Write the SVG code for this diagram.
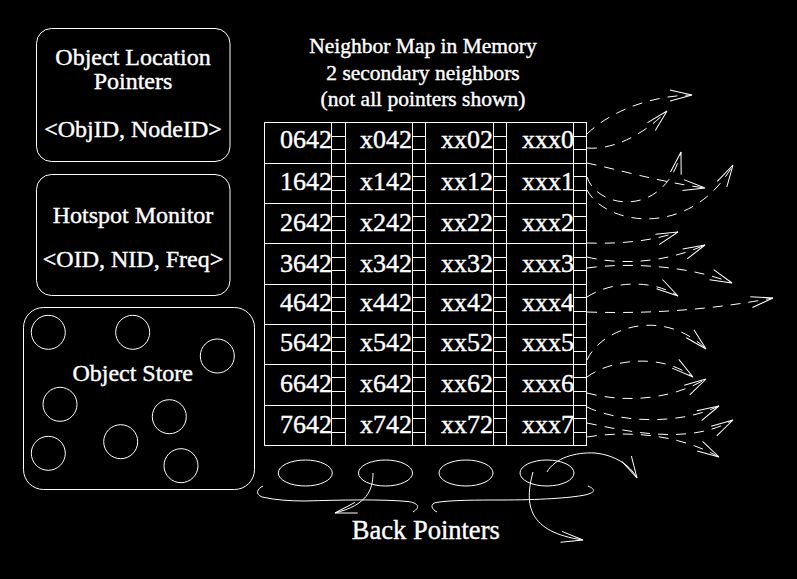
<svg xmlns="http://www.w3.org/2000/svg" width="797" height="579" viewBox="0 0 797 579">
<defs>
<style>
.bg{fill:#000}
.ln{fill:none;stroke:#fff;stroke-width:1}
.dash{fill:none;stroke:#fff;stroke-width:1;stroke-dasharray:10 8}
.t{fill:#fff;stroke:#fff;stroke-width:0.4;font-family:'Liberation Serif','Times New Roman',serif}
.lbl{font-size:24px;text-anchor:middle}
.cell{font-size:26px;text-anchor:end}
.ttl{font-size:21.5px;text-anchor:middle}
</style>
<marker id="ah" markerUnits="userSpaceOnUse" markerWidth="30" markerHeight="20" refX="0" refY="0" viewBox="-24 -10 30 20" orient="auto">
<path d="M-22,-5.5 L0,0 L-22,5.5" fill="none" stroke="#fff" stroke-width="1" stroke-dasharray="none"/>
</marker>
</defs>
<rect class="bg" x="0" y="0" width="797" height="579"/>

<g id="object-location-pointers">
<rect class="ln" x="36.5" y="28.5" width="193.5" height="133" rx="15"/>
<text class="t lbl" x="133" y="65">Object Location</text>
<text class="t lbl" x="133" y="89">Pointers</text>
<text class="t lbl" x="133" y="137">&lt;ObjID, NodeID&gt;</text>
</g>

<g id="hotspot-monitor">
<rect class="ln" x="36.5" y="174.5" width="193.5" height="121" rx="15"/>
<text class="t lbl" x="133" y="222.5">Hotspot Monitor</text>
<text class="t lbl" x="133" y="266.5">&lt;OID, NID, Freq&gt;</text>
</g>

<g id="object-store">
<rect class="ln" x="23.5" y="307.5" width="231" height="182" rx="20"/>
<circle class="ln" cx="48.3" cy="332.3" r="17"/>
<circle class="ln" cx="132.7" cy="332.3" r="17"/>
<circle class="ln" cx="217.3" cy="356" r="17"/>
<circle class="ln" cx="60" cy="404.3" r="17"/>
<circle class="ln" cx="169.3" cy="416.7" r="17"/>
<circle class="ln" cx="120.7" cy="441.7" r="17"/>
<circle class="ln" cx="48.3" cy="453.3" r="17"/>
<circle class="ln" cx="181" cy="465.7" r="17"/>
<text class="t lbl" x="132.7" y="380.7">Object Store</text>
</g>

<g id="neighbor-map-title">
<text class="t ttl" x="423" y="53">Neighbor Map in Memory</text>
<text class="t ttl" x="423" y="79.5">2 secondary neighbors</text>
<text class="t ttl" x="423" y="106">(not all pointers shown)</text>
</g>

<g id="neighbor-table">
<rect class="ln" x="264.5" y="122.5" width="322" height="323"/>
<path class="ln" d="M331.5,122.5V445.5M345.5,122.5V445.5M412.5,122.5V445.5M425.5,122.5V445.5M493.5,122.5V445.5M506.5,122.5V445.5M573.5,122.5V445.5"/>
<path class="ln" d="M264.5,163.5H586.5M264.5,203.5H586.5M264.5,243.5H586.5M264.5,284.5H586.5M264.5,324.5H586.5M264.5,364.5H586.5M264.5,405.5H586.5"/>
<path class="ln" d="M331.5,136.5h14M331.5,149.5h14M331.5,176.5h14M331.5,190.5h14M331.5,216.5h14M331.5,230.5h14M331.5,257.5h14M331.5,270.5h14M331.5,297.5h14M331.5,311.5h14M331.5,337.5h14M331.5,351.5h14M331.5,377.5h14M331.5,391.5h14M331.5,418.5h14M331.5,432.5h14"/>
<path class="ln" d="M412.5,136.5h13M412.5,149.5h13M412.5,176.5h13M412.5,190.5h13M412.5,216.5h13M412.5,230.5h13M412.5,257.5h13M412.5,270.5h13M412.5,297.5h13M412.5,311.5h13M412.5,337.5h13M412.5,351.5h13M412.5,377.5h13M412.5,391.5h13M412.5,418.5h13M412.5,432.5h13"/>
<path class="ln" d="M493.5,136.5h13M493.5,149.5h13M493.5,176.5h13M493.5,190.5h13M493.5,216.5h13M493.5,230.5h13M493.5,257.5h13M493.5,270.5h13M493.5,297.5h13M493.5,311.5h13M493.5,337.5h13M493.5,351.5h13M493.5,377.5h13M493.5,391.5h13M493.5,418.5h13M493.5,432.5h13"/>
<path class="ln" d="M573.5,136.5h13M573.5,149.5h13M573.5,176.5h13M573.5,190.5h13M573.5,216.5h13M573.5,230.5h13M573.5,257.5h13M573.5,270.5h13M573.5,297.5h13M573.5,311.5h13M573.5,337.5h13M573.5,351.5h13M573.5,377.5h13M573.5,391.5h13M573.5,418.5h13M573.5,432.5h13"/>
<g class="t cell">
<text x="332" y="148">0642</text><text x="412" y="148">x042</text><text x="493" y="148">xx02</text><text x="574" y="148">xxx0</text>
<text x="332" y="190">1642</text><text x="412" y="190">x142</text><text x="493" y="190">xx12</text><text x="574" y="190">xxx1</text>
<text x="332" y="230.5">2642</text><text x="412" y="230.5">x242</text><text x="493" y="230.5">xx22</text><text x="574" y="230.5">xxx2</text>
<text x="332" y="271.5">3642</text><text x="412" y="271.5">x342</text><text x="493" y="271.5">xx32</text><text x="574" y="271.5">xxx3</text>
<text x="332" y="311">4642</text><text x="412" y="311">x442</text><text x="493" y="311">xx42</text><text x="574" y="311">xxx4</text>
<text x="332" y="351">5642</text><text x="412" y="351">x542</text><text x="493" y="351">xx52</text><text x="574" y="351">xxx5</text>
<text x="332" y="392">6642</text><text x="412" y="392">x642</text><text x="493" y="392">xx62</text><text x="574" y="392">xxx6</text>
<text x="332" y="432.5">7642</text><text x="412" y="432.5">x742</text><text x="493" y="432.5">xx72</text><text x="574" y="432.5">xxx7</text>
</g>
</g>

<g id="back-pointers">
<ellipse class="ln" cx="305.3" cy="473" rx="27" ry="13"/>
<ellipse class="ln" cx="385.5" cy="473" rx="27" ry="13"/>
<ellipse class="ln" cx="466" cy="473" rx="27" ry="13"/>
<ellipse class="ln" cx="547" cy="473" rx="27" ry="13"/>
<text class="t" x="425.8" y="539" style="font-size:26.5px;text-anchor:middle">Back Pointers</text>
</g>

<g id="connectors">
<path class="dash" marker-end="url(#ah)" d="M587,134 C603,118 640,96 692,95"/>
<path class="dash" marker-end="url(#ah)" d="M587,148 C610,150 640,138 667,111"/>
<path class="dash" marker-end="url(#ah)" d="M587,163 C620,170 660,182 705,188"/>
<path class="dash" marker-end="url(#ah)" d="M587,177 C598,210 665,218 681,152"/>
<path class="dash" marker-end="url(#ah)" d="M587,190 C605,225 690,240 733,165"/>
<path class="dash" marker-end="url(#ah)" d="M587,243 C615,244 650,242 678,232"/>
<path class="dash" marker-end="url(#ah)" d="M587,257 C615,264 660,265 705,245"/>
<path class="dash" marker-end="url(#ah)" d="M587,268 C630,262 690,266 732,283"/>
<path class="dash" marker-end="url(#ah)" d="M587,297 C610,282 650,278 678,296"/>
<path class="dash" marker-end="url(#ah)" d="M587,312 C650,314 710,310 773,298"/>
<path class="dash" marker-end="url(#ah)" d="M587,360 C600,330 660,305 706,349"/>
<path class="dash" marker-end="url(#ah)" d="M587,377 C610,360 660,352 693,377"/>
<path class="dash" marker-end="url(#ah)" d="M587,393 C625,403 670,400 706,379"/>
<path class="dash" marker-end="url(#ah)" d="M587,407 C620,423 680,425 719,406"/>
<path class="dash" marker-end="url(#ah)" d="M587,423 C630,432 690,445 733,420"/>
<path class="dash" marker-end="url(#ah)" d="M587,437 C630,430 680,435 719,457"/>
<path class="ln" d="M263,486 C257,489 255,494 262,497 C275,500 290,501 305,501 C340,500 380,499 408,501.5 C418,503 421,507 413,512"/>
<path class="ln" d="M437,512 C431,509 430,504 436,502.5 C450,500 480,500 500,500 C540,500 570,498 585,495 C597,492 595,489 588,486"/>
<path class="ln" marker-end="url(#ah)" d="M373,473 C373,490 367,505 335,513"/>
<path class="ln" marker-end="url(#ah)" d="M533,472 C524,505 528,532 583,540"/>
<path class="ln" marker-end="url(#ah)" d="M547,472 C555,458 575,452 595,453 C615,455 630,465 637,478"/>
</g>
</svg>
